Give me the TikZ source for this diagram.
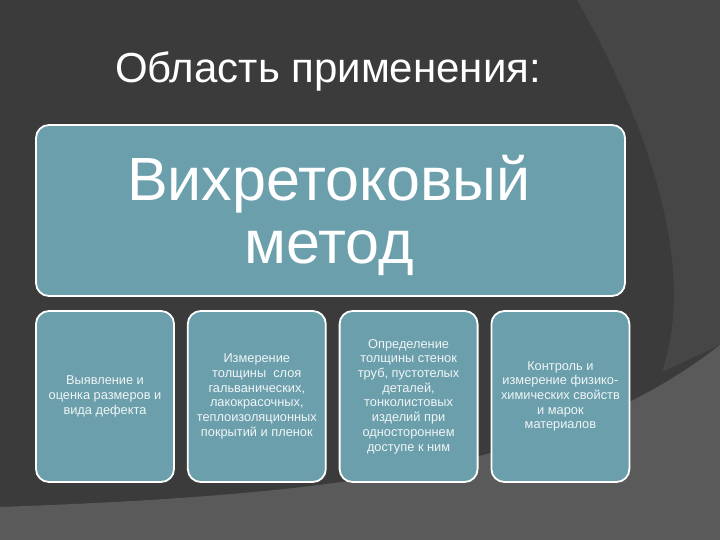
\documentclass[tikz,border=0pt]{standalone}
\usepackage{fontspec}
\setmainfont{Liberation Sans}
\usetikzlibrary{positioning}
\definecolor{slatebg}{RGB}{59,59,59}
\definecolor{slateright}{RGB}{70,70,70}
\definecolor{slatelow}{RGB}{90,90,90}
\definecolor{tealbox}{RGB}{107,159,172}
\tikzset{
  mainbox/.style={draw=white, line width=1.8pt, fill=tealbox, rounded corners=13pt,
    minimum width=589pt, minimum height=171pt, inner sep=0pt},
  appbox/.style={draw=white, line width=1.8pt, fill=tealbox, rounded corners=13pt,
    minimum width=138pt, minimum height=171pt, inner sep=0pt, align=center,
    text=white!90!tealbox, font=\fontsize{12.8}{14.7}\selectfont},
}
\begin{document}
\begin{tikzpicture}[x=1pt,y=-1pt]   % pixel grid, y going down
\useasboundingbox (0,0) rectangle (720,540);
% background of the slide
\fill[slatebg] (0,0) rectangle (720,540);
\fill[slateright] (577,0) .. controls (640,110) and (700,260) .. (662,372) -- (720,345) -- (720,0) -- cycle;
\fill[slatelow] (0,507) .. controls (330,495) and (560,470) .. (720,345) -- (720,540) -- (0,540) -- cycle;
% title
\node[anchor=base, text=white, font=\fontsize{42}{50}\selectfont] (title) at (328,83) {Область применения:};
% main box
\node[mainbox] (method) at (330.5,210.5) {};
\node[anchor=base, text=white, align=center, font=\fontsize{61}{63}\selectfont] (methodtext) at (329,263)
    {Вихретоковый\\метод};
% the four applications
\node[appbox] (app1) at (105,396.5) {Выявление и\\оценка размеров и\\вида дефекта};
\node[appbox, right=12pt of app1] (app2) {Измерение\\толщины\ \ слоя\\гальванических,\\лакокрасочных,\\теплоизоляционных\\покрытий и пленок};
\node[appbox, right=12pt of app2] (app3) {Определение\\толщины стенок\\труб, пустотелых\\деталей,\\тонколистовых\\изделий при\\одностороннем\\доступе к ним};
\node[appbox, right=12pt of app3] (app4) {Контроль и\\измерение физико-\\химических свойств\\и марок\\материалов};
\end{tikzpicture}
\end{document}
